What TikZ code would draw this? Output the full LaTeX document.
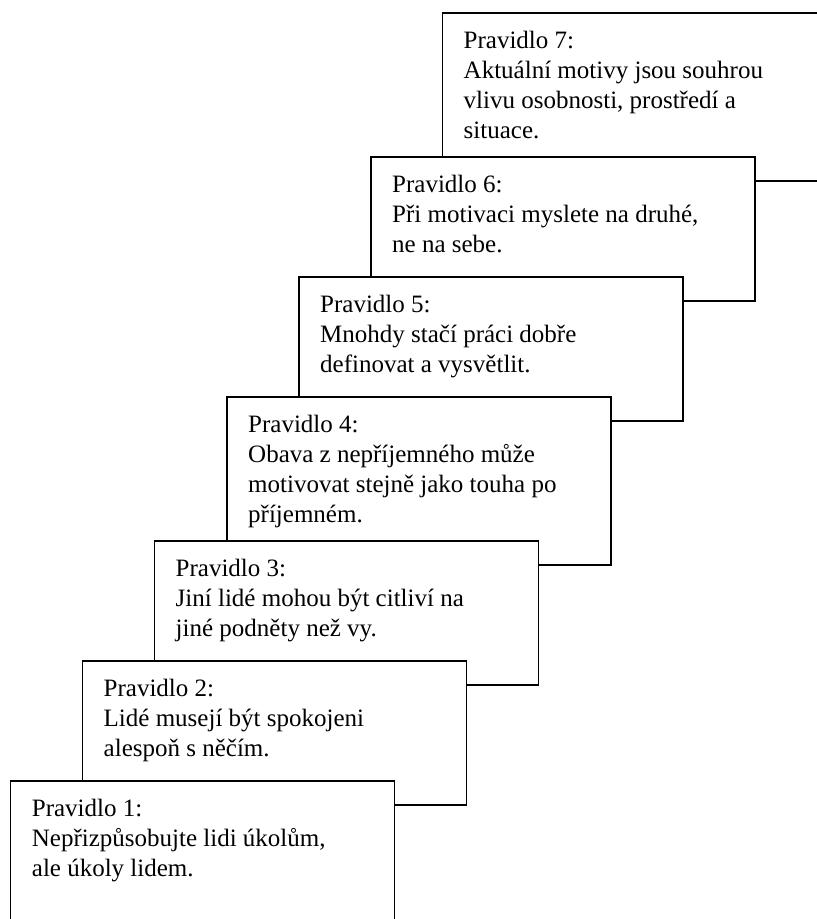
\documentclass[tikz,border=0pt]{standalone}
\usepackage{fontspec}
\setmainfont{Liberation Serif}
\usetikzlibrary{calc}
\begin{document}
\begin{tikzpicture}[x=1pt,y=-1pt,
  card/.style={draw=black, line width=1.5pt, fill=white, rectangle, inner sep=0pt, outer sep=0pt, anchor=north west, minimum width=384pt, minimum height=144pt},
  tallcard/.style={minimum height=168pt},
  txt/.style={anchor=base west, inner sep=0pt, align=left, font=\fontsize{25}{30}\selectfont}]
\clip (0,0) rectangle (817,919);
% text nodes anchored at the baseline of their last line:
% first baseline at top+35, lines 30pt apart
\node[card,tallcard] (b7) at (442.5,13) {};
\node[txt] (t7) at ($(b7.north west)+(21,125)$) {Pravidlo 7:\\Aktuální motivy jsou souhrou\\vlivu osobnosti, prostředí a\\situace.};
\node[card] (b6) at (371,157) {};
\node[txt] (t6) at ($(b6.north west)+(21,95)$) {Pravidlo 6:\\Při motivaci myslete na druhé,\\ne na sebe.};
\node[card] (b5) at (299,277) {};
\node[txt] (t5) at ($(b5.north west)+(21,95)$) {Pravidlo 5:\\Mnohdy stačí práci dobře\\definovat a vysvětlit.};
\node[card,tallcard] (b4) at (227,397) {};
\node[txt] (t4) at ($(b4.north west)+(21,125)$) {Pravidlo 4:\\Obava z nepříjemného může\\motivovat stejně jako touha po\\příjemném.};
\node[card] (b3) at (154.5,541) {};
\node[txt] (t3) at ($(b3.north west)+(21,95)$) {Pravidlo 3:\\Jiní lidé mohou být citliví na\\jiné podněty než vy.};
\node[card] (b2) at (82.5,661) {};
\node[txt] (t2) at ($(b2.north west)+(21,95)$) {Pravidlo 2:\\Lidé musejí být spokojeni\\alespoň s něčím.};
\node[card,tallcard] (b1) at (10.7,781) {};
\node[txt] (t1) at ($(b1.north west)+(21,95)$) {Pravidlo 1:\\Nepřizpůsobujte lidi úkolům,\\ale úkoly lidem.};
\end{tikzpicture}
\end{document}
